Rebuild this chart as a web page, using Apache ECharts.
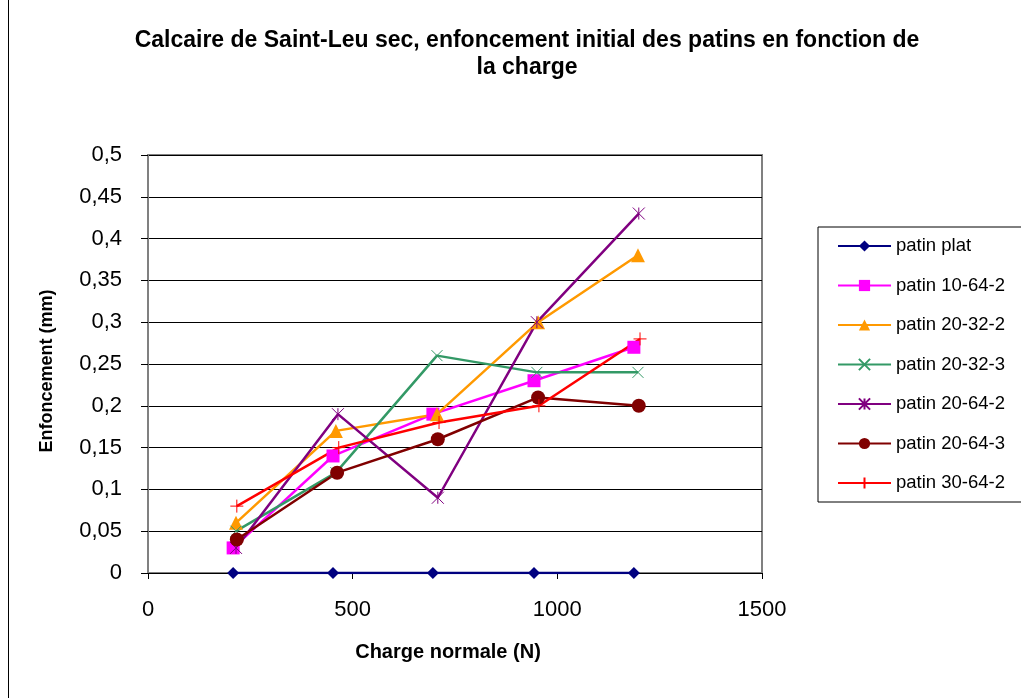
<!DOCTYPE html>
<html>
<head>
<meta charset="utf-8">
<script src="https://cdn.jsdelivr.net/npm/echarts@6/dist/echarts.min.js"></script>
<style>
  html, body { margin: 0; padding: 0; background: #fff; }
  #chart { width: 1021px; height: 698px; }
</style>
</head>
<body>
<div id="chart"></div>
<script>
// charge normale (N) et enfoncement (mm) par patin
const chargePlat = [208, 452, 696, 943, 1187];
const enfPlat = [0, 0, 0, 0, 0];
const charge10642 = [208, 452, 696, 943, 1187];
const enf10642 = [0.03, 0.14, 0.19, 0.23, 0.27];
const charge20322 = [215, 459, 706, 953, 1197];
const enf20322 = [0.06, 0.17, 0.19, 0.30, 0.38];
const charge20323 = [215, 459, 706, 950, 1197];
const enf20323 = [0.05, 0.12, 0.26, 0.24, 0.24];
const charge20642 = [215, 464, 708, 950, 1199];
const enf20642 = [0.03, 0.19, 0.09, 0.30, 0.43];
const charge20643 = [217, 462, 708, 953, 1199];
const enf20643 = [0.04, 0.12, 0.16, 0.21, 0.20];
const charge30642 = [217, 466, 711, 955, 1202];
const enf30642 = [0.08, 0.15, 0.18, 0.20, 0.28];

const noms = ['patin plat', 'patin 10-64-2', 'patin 20-32-2', 'patin 20-32-3', 'patin 20-64-2', 'patin 20-64-3', 'patin 30-64-2'];

function paires(xs, ys) {
  return xs.map((x, i) => [x, ys[i]]);
}

const font = 'Arial, "Liberation Sans", sans-serif';

function serie(nom, xs, ys, color, symbol, size, stroke) {
  return {
    name: nom,
    type: 'line',
    data: paires(xs, ys),
    symbol: symbol,
    symbolSize: size,
    showAllSymbol: true,
    lineStyle: { color: color, width: 2.5 },
    itemStyle: stroke
      ? { color: color, borderColor: color, borderWidth: 1 }
      : { color: color },
    emphasis: { disabled: true },
    z: 3
  };
}

const croix = 'path://M0,0L10,10M10,0L0,10';
const etoile = 'path://M0,0L10,10M10,0L0,10M5,0L5,10';
const plus = 'path://M5,0L5,10M0,5L10,5';

const chart = echarts.init(document.getElementById('chart'));
chart.setOption({
  animation: false,
  backgroundColor: '#fff',
  title: {
    text: 'Calcaire de Saint-Leu sec, enfoncement initial des patins en fonction de\nla charge',
    left: 527,
    top: 27,
    padding: 0,
    textAlign: 'center',
    textStyle: { fontFamily: font, fontSize: 23, fontWeight: 'bold', color: '#000', lineHeight: 27 }
  },
  graphic: [{
    type: 'line',
    shape: { x1: 8.5, y1: 0, x2: 8.5, y2: 698 },
    style: { stroke: '#000', lineWidth: 1 }
  }],
  legend: {
    orient: 'vertical',
    left: 818,
    top: 227,
    data: noms,
    itemWidth: 53,
    itemHeight: 14,
    itemGap: 20.5,
    padding: [9.5, 30, 9.5, 19],
    borderColor: '#000',
    borderWidth: 1,
    textStyle: { fontFamily: font, fontSize: 18.5, color: '#000' }
  },
  grid: {
    left: 148, right: 259, top: 155, bottom: 125,
    show: true,
    borderColor: '#808080',
    borderWidth: 2
  },
  xAxis: {
    type: 'value',
    min: 0, max: 1500, interval: 500,
    name: 'Charge normale (N)',
    nameLocation: 'middle',
    nameGap: 69,
    nameTextStyle: { fontFamily: font, fontSize: 20, fontWeight: 'bold', color: '#000', padding: [0, 14, 0, 0] },
    axisLine: { show: true, lineStyle: { color: '#000', width: 1 } },
    axisTick: { show: true, length: 6, lineStyle: { color: '#000' } },
    axisLabel: { margin: 26, fontFamily: font, fontSize: 22, color: '#000', formatter: v => String(v) },
    splitLine: { show: false }
  },
  yAxis: {
    type: 'value',
    min: 0, max: 0.5, interval: 0.05,
    name: 'Enfoncement (mm)',
    nameLocation: 'middle',
    nameGap: 92,
    nameTextStyle: { fontFamily: font, fontSize: 18, fontWeight: 'bold', color: '#000', padding: [0, 14, 0, 0] },
    axisLine: { show: true, lineStyle: { color: '#808080', width: 2 } },
    axisTick: { show: true, length: 7, lineStyle: { color: '#000' } },
    axisLabel: {
      margin: 26, fontFamily: font, fontSize: 22, color: '#000',
      formatter: v => String(Math.round(v * 100) / 100).replace('.', ',')
    },
    splitLine: { show: true, lineStyle: { color: '#000', width: 1 } }
  },
  series: [
    serie(noms[0], chargePlat, enfPlat, '#000080', 'diamond', 12, false),
    serie(noms[1], charge10642, enf10642, '#FF00FF', 'rect', 13, false),
    serie(noms[2], charge20322, enf20322, '#FF9900', 'triangle', 14, false),
    serie(noms[3], charge20323, enf20323, '#339966', croix, 11, true),
    serie(noms[4], charge20642, enf20642, '#800080', etoile, 12, true),
    serie(noms[5], charge20643, enf20643, '#800000', 'circle', 14, false),
    serie(noms[6], charge30642, enf30642, '#FF0000', plus, 13, true)
  ]
});
</script>
</body>
</html>
